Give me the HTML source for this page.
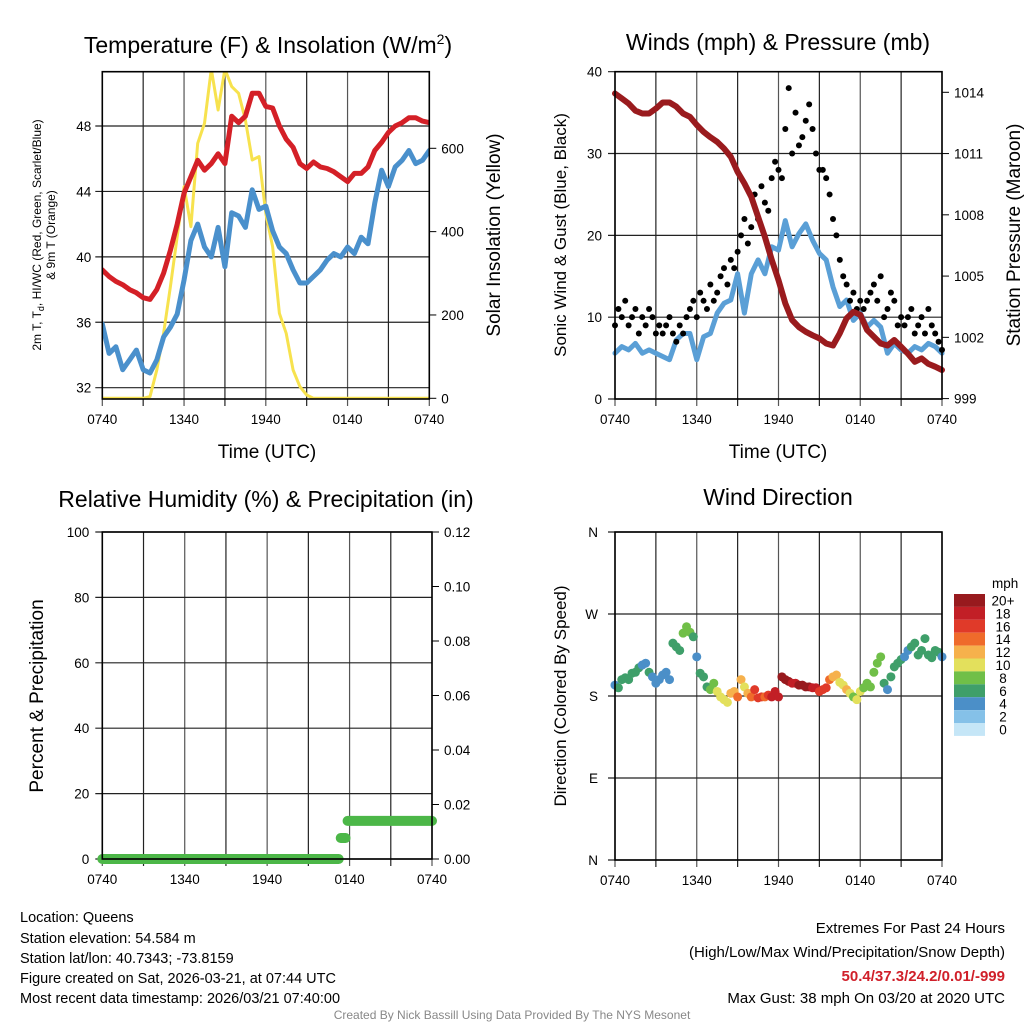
<!DOCTYPE html>
<html><head><meta charset="utf-8"><style>
html,body{margin:0;padding:0;background:#fff;}
svg{display:block;font-family:"Liberation Sans",sans-serif;}
</style></head><body>
<svg id="root" width="1024" height="1024" viewBox="0 0 1024 1024" xmlns="http://www.w3.org/2000/svg">
<g id="g1"></g>
<g id="g2"></g>
<g id="g3"></g>
<g id="g4"></g>
<g font-size="23" text-anchor="middle" fill="#000">
<text x="268" y="53">Temperature (F) &amp; Insolation (W/m<tspan dy="-9" font-size="14">2</tspan><tspan dy="9">)</tspan></text>
<text x="778" y="50">Winds (mph) &amp; Pressure (mb)</text>
<text x="266" y="507">Relative Humidity (%) &amp; Precipitation (in)</text>
<text x="778" y="505">Wind Direction</text>
</g>
<g font-size="19" text-anchor="middle">
<text x="267" y="458">Time (UTC)</text>
<text x="778" y="458">Time (UTC)</text>
<text transform="translate(500,235) rotate(-90)">Solar Insolation (Yellow)</text>
<text transform="translate(566,235) rotate(-90)" font-size="17">Sonic Wind &amp; Gust (Blue, Black)</text>
<text transform="translate(1020,235) rotate(-90)">Station Pressure (Maroon)</text>
<text transform="translate(43,696) rotate(-90)">Percent &amp; Precipitation</text>
<text transform="translate(566,696) rotate(-90)" font-size="17">Direction (Colored By Speed)</text>
<text transform="translate(41,235) rotate(-90)" font-size="12">2m T, T<tspan font-size="9" dy="3">d</tspan><tspan dy="-3">, HI/WC (Red, Green, Scarlet/Blue)</tspan></text>
<text transform="translate(55,235) rotate(-90)" font-size="12">&amp; 9m T (Orange)</text>
</g>
<g font-size="14.5" fill="#000">
<text x="20" y="922">Location: Queens</text>
<text x="20" y="943">Station elevation: 54.584 m</text>
<text x="20" y="963">Station lat/lon: 40.7343; -73.8159</text>
<text x="20" y="983">Figure created on Sat, 2026-03-21, at 07:44 UTC</text>
<text x="20" y="1003">Most recent data timestamp: 2026/03/21 07:40:00</text>
</g>
<g font-size="15" text-anchor="end">
<text x="1005" y="933">Extremes For Past 24 Hours</text>
<text x="1005" y="957">(High/Low/Max Wind/Precipitation/Snow Depth)</text>
<text x="1005" y="981" fill="#d0202a" font-weight="bold">50.4/37.3/24.2/0.01/-999</text>
<text x="1005" y="1003">Max Gust: 38 mph On 03/20 at 2020 UTC</text>
</g>
<text x="512" y="1019" font-size="12" fill="#888" text-anchor="middle">Created By Nick Bassill Using Data Provided By The NYS Mesonet</text>
</svg>
<script>
// ---- data (30-min steps from 0740 UTC) ----
const timeLabels = ["0740","1340","1940","0140","0740"];
const tempF = [39.2,38.8,38.5,38.3,38.0,37.8,37.5,37.4,38.0,39.0,40.4,42.0,43.9,44.9,45.9,45.3,45.7,46.3,45.7,48.6,48.2,48.6,50.0,50.0,49.2,49.1,48.0,47.2,46.7,45.7,45.4,45.8,45.5,45.4,45.2,44.9,44.6,45.1,45.1,45.5,46.5,47.0,47.6,48.0,48.2,48.5,48.5,48.3,48.2];
const dewF = [35.9,34.1,34.5,33.1,33.7,34.3,33.1,32.9,33.7,35.1,35.7,36.5,38.6,41.0,42.0,40.6,40.0,41.8,39.4,42.7,42.5,41.8,44.1,42.9,43.1,41.6,40.6,40.2,39.2,38.4,38.4,38.8,39.2,39.8,40.2,40.0,40.6,40.2,41.2,40.8,43.3,45.3,44.3,45.5,45.9,46.5,45.7,45.9,46.5];
const solarW = [0,0,0,0,0,0,0,4,68,156,268,388,508,412,612,660,790,692,790,748,732,668,572,580,444,364,204,156,68,28,8,0,0,0,0,0,0,0,0,0,0,0,0,0,0,0,0,0,0];
const tempTicks = [32,36,40,44,48];
const solarTicks = [0,200,400,600];
const windMph = [5.6,6.4,6.0,6.8,5.6,6.0,5.6,5.2,4.8,7.2,8.0,8.0,4.8,7.6,8.0,10.5,11.7,12.1,15.3,10.5,15.3,17.0,15.3,18.6,18.2,21.8,18.6,20.2,21.4,19.4,17.8,17.0,13.7,11.3,12.1,9.6,10.5,8.8,9.6,8.8,5.6,6.8,6.0,5.6,6.4,6.0,6.8,6.4,5.6];
// gusts at 15-min steps
const gustMph = [9,11,10,12,9,10,11,8,10,9,11,10,8, 9,8,9,10,8,7,9,8,10,11,12,10, 13,12,11,14,12,13,15,16,14,17,16,18, 20,22,19,21,25,22,26,24,23,27,29,28, 27,33,38,30,35,31,32,34,36,33,30,28, 28,27,25,22,20,17,15,14,12,13,11,12, 11,12,13,14,12,15,10,11,13,12,9,10, 9,10,11,8,9,10,8,11,9,8,7,6];
const pressMb = [1013.94,1013.7,1013.45,1013.1,1012.96,1012.96,1013.2,1013.5,1013.5,1013.3,1012.96,1012.8,1012.4,1012.06,1011.8,1011.57,1011.25,1010.84,1010.1,1009.54,1008.88,1007.9,1006.92,1005.8,1004.8,1003.66,1002.85,1002.5,1002.27,1002.1,1001.95,1001.7,1001.6,1002.2,1002.93,1003.25,1003.1,1002.36,1002.03,1001.7,1001.6,1001.87,1001.54,1001.2,1000.8,1000.97,1000.7,1000.56,1000.4];
const windTicks = [0,10,20,30,40];
const pressTicks = [999,1002,1005,1008,1011,1014];
const precipIn = [0,0,0,0,0,0,0,0,0,0,0,0,0,0,0,0,0,0,0,0,0,0,0,0,0,0,0,0,0,0,0,0,0,0,0,0.0077,0.014,0.014,0.014,0.014,0.014,0.014,0.014,0.014,0.014,0.014,0.014,0.014,0.014];
const rhTicks = [0,20,40,60,80,100];
const precipTicks = ["0.00","0.02","0.04","0.06","0.08","0.10","0.12"];
// wind direction at 15-min steps (degrees)
const dirDeg = [192,189,198,200,198,205, 206,211,214,216,206,201,194,198,203,206,198, 238,234,230,249,256,250,245,223, 205,201,190,187,194,185,179,176,173,183,185,179, 198,190,183,179,187,178,179,179,181,179,185,179, 201,198,196,194,194,192,192,190,190,189,189,185,187,189, 198,201,203,195,192,187,183,179,176,185,189,194,190, 206,216,223,194,187,201,212,216,220,223,230,234,238, 225,230,243,225,222,230,228,223];
const dirLabels = ["N","E","S","W","N"];
const speedBins = ["0","2","4","6","8","10","12","14","16","18","20+"];
const binColors = ["#c5e6f7","#85c1e8","#4b8fc8","#3f9f6a","#70bf48","#e3e05c","#f6b14c","#ef6b2b","#e03a29","#c21f26","#981a1e"];

const NS="http://www.w3.org/2000/svg";
function mk(parent,tag,attrs){const e=document.createElementNS(NS,tag);for(const k in attrs)e.setAttribute(k,attrs[k]);parent.appendChild(e);return e;}
function lin(d0,d1,r0,r1){return v=>r0+(v-d0)/(d1-d0)*(r1-r0);}

function frame(g,X0,X1,Y0,Y1){
  for(let k=0;k<=8;k++){const x=X0+(X1-X0)*k/8;
    const l=mk(g,'line',{x1:x,x2:x,y1:Y0,y2:Y1+7,stroke:k%2?'#222':'#555','stroke-width':1.2});
    
    }
  timeLabels.forEach((t,k)=>{const x=X0+(X1-X0)*k/4;
    const tx=mk(g,'text',{x:x,y:Y1+25,'font-size':13.5,'text-anchor':'middle'});tx.textContent=t;
    
    });
}
function border(g,X0,X1,Y0,Y1){const r=mk(g,'rect',{x:X0,y:Y0,width:X1-X0,height:Y1-Y0,fill:'none',stroke:'#000','stroke-width':1.6});
  
  }
function path(g,pts,attrs){return mk(g,'path',Object.assign({d:'M'+pts.map(p=>p[0].toFixed(1)+','+p[1].toFixed(1)).join('L'),fill:'none','stroke-linejoin':'round','stroke-linecap':'round'},attrs));}

// ---- Panel 1 ----
(function(){
  const g=document.getElementById('g1');const X0=102.3,X1=429.3,Y0=71.7,Y1=399;
  const yT=lin(48,32,126,387.7), yS=lin(0,600,398.3,148.3), xI=lin(0,48,X0,X1);
  frame(g,X0,X1,Y0,Y1);
  tempTicks.forEach(v=>{const y=yT(v);
    const l=mk(g,'line',{x1:X0-7,x2:X1,y1:y,y2:y,stroke:'#222','stroke-width':1.2});
    
    
    const t=mk(g,'text',{x:X0-11,y:y+5,'font-size':13.5,'text-anchor':'end'});t.textContent=v;
    
    });
  solarTicks.forEach(v=>{const y=yS(v);
    mk(g,'line',{x1:X1,x2:X1+7,y1:y,y2:y,stroke:'#000'});
    const t=mk(g,'text',{x:X1+12,y:y+5,'font-size':13.5});t.textContent=v;
    
    });
  const defs=mk(g,'clipPath',{id:'c1'});mk(defs,'rect',{x:X0,y:Y0,width:X1-X0,height:Y1-Y0});
  const cg=mk(g,'g',{'clip-path':'url(#c1)'});
  const s=path(cg,solarW.map((v,i)=>[xI(i),yS(v)]),{stroke:'#f7e24e','stroke-width':3});
  
  
  const d=path(cg,dewF.map((v,i)=>[xI(i),yT(v)]),{stroke:'#4a90cc','stroke-width':5});
  
  
  const t=path(cg,tempF.map((v,i)=>[xI(i),yT(v)]),{stroke:'#d42027','stroke-width':5});
  
  
  border(g,X0,X1,Y0,Y1);
})();

// ---- Panel 2 ----
(function(){
  const g=document.getElementById('g2');const X0=615,X1=942,Y0=71.7,Y1=399;
  const yW=lin(0,40,399,71.7), yP=lin(999,1014,398.6,92.3), xI=lin(0,48,X0,X1), xG=lin(0,96,X0,X1);
  frame(g,X0,X1,Y0,Y1);
  windTicks.forEach(v=>{const y=yW(v);
    const l=mk(g,'line',{x1:X0-7,x2:X1,y1:y,y2:y,stroke:'#222','stroke-width':1.2});
    
    
    const t=mk(g,'text',{x:X0-13,y:y+5,'font-size':13.5,'text-anchor':'end'});t.textContent=v;
    
    });
  pressTicks.forEach(v=>{const y=yP(v);
    mk(g,'line',{x1:X1,x2:X1+7,y1:y,y2:y,stroke:'#000'});
    const t=mk(g,'text',{x:X1+12,y:y+5,'font-size':13.5});t.textContent=v;
    
    });
  const w=path(g,windMph.map((v,i)=>[xI(i),yW(v)]),{stroke:'#5a9fd6','stroke-width':5});
  
  
  gustMph.forEach((v,i)=>{const c=mk(g,'circle',{cx:xG(i),cy:yW(v),r:3,fill:'#000'});
    
    });
  const p=path(g,pressMb.map((v,i)=>[xI(i),yP(v)]),{stroke:'#9a1b1e','stroke-width':6});
  
  
  border(g,X0,X1,Y0,Y1);
})();

// ---- Panel 3 ----
(function(){
  const g=document.getElementById('g3');const X0=102.3,X1=432,Y0=532,Y1=859;
  const yR=lin(0,100,Y1,Y0), yP=lin(0,0.12,Y1,Y0), xI=lin(0,48,X0,X1);
  frame(g,X0,X1,Y0,Y1);
  rhTicks.forEach(v=>{const y=yR(v);
    const l=mk(g,'line',{x1:X0-7,x2:X1,y1:y,y2:y,stroke:'#222','stroke-width':1.2});
    
    
    const t=mk(g,'text',{x:X0-13,y:y+5,'font-size':13.5,'text-anchor':'end'});t.textContent=v;
    
    });
  precipTicks.forEach(v=>{const y=yP(parseFloat(v));
    mk(g,'line',{x1:X1,x2:X1+7,y1:y,y2:y,stroke:'#000'});
    const t=mk(g,'text',{x:X1+12,y:y+5,'font-size':13.5});t.textContent=v;
    
    });
  let start=0;
  for(let i=1;i<=precipIn.length;i++){
    if(i===precipIn.length||precipIn[i]!==precipIn[start]){
      const x1=xI(start)-(start===0?0:2), x2=(i===precipIn.length)?xI(i-1):xI(i)-4;
      const y=yP(precipIn[start]);
      const l=mk(g,'line',{x1:x1,x2:Math.max(x2,x1+3),y1:y,y2:y,stroke:'#4cb748','stroke-width':10,'stroke-linecap':'round'});
      
      
      start=i;
    }
  }
  border(g,X0,X1,Y0,Y1);
})();

// ---- Panel 4 ----
(function(){
  const g=document.getElementById('g4');const X0=615,X1=942,Y0=532,Y1=860;
  const yD=lin(0,360,Y1,Y0), xG=lin(0,96,X0,X1);
  frame(g,X0,X1,Y0,Y1);
  dirLabels.forEach((v,k)=>{const y=yD(k*90);
    const l=mk(g,'line',{x1:X0-7,x2:X1,y1:y,y2:y,stroke:'#222','stroke-width':1.2});
    
    
    const t=mk(g,'text',{x:X0-17,y:y+5,'font-size':13.5,'text-anchor':'end'});t.textContent=v;
    
    });
  dirDeg.forEach((v,i)=>{
    const f=i/2, a=Math.floor(f), b=Math.min(48,a+1);
    const sp=windMph[a]+(windMph[b]-windMph[a])*(f-a);
    const bin=Math.min(10,Math.floor(sp/2));
    const c=mk(g,'circle',{cx:xG(i),cy:yD(v),r:4.5,fill:binColors[bin]});
    
    });
  border(g,X0,X1,Y0,Y1);
  const cb=mk(g,'g',{});
  
  
  const t=mk(cb,'text',{x:992,y:588,'font-size':13.5});t.textContent='mph';
  
  
  const top=594,h=12.9;
  speedBins.forEach((lab,k)=>{const idx=10-k; const y=top+k*h;
    const r=mk(cb,'rect',{x:954,y:y,width:31,height:h,fill:binColors[idx]});
    
    
    const tx=mk(cb,'text',{x:1003,y:y+h/2+5,'font-size':13.5,'text-anchor':'middle'});tx.textContent=speedBins[idx];
    
    });
})();
</script>
</body></html>
